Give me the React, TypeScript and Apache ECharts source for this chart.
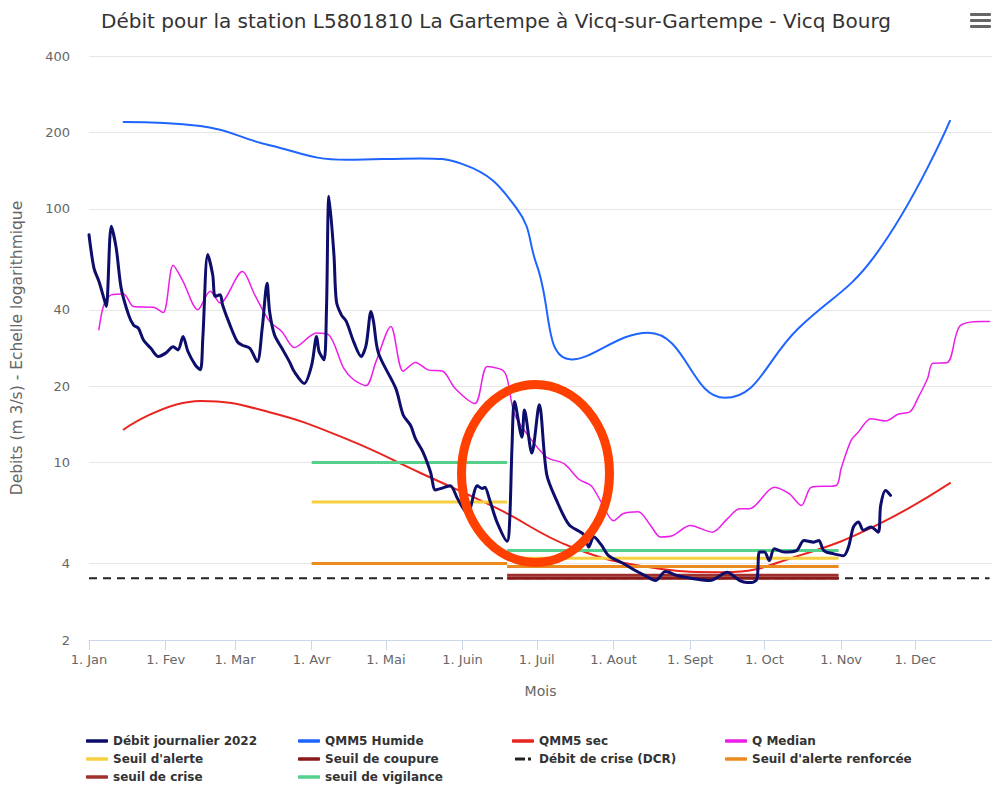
import React, { useEffect, useRef } from "react";
import * as echarts from "echarts";

const TITLE = "Débit pour la station L5801810 La Gartempe à Vicq-sur-Gartempe - Vicq Bourg";
const monthLabels = ["1. Jan", "1. Fev", "1. Mar", "1. Avr", "1. Mai", "1. Juin", "1. Juil", "1. Aout", "1. Sept", "1. Oct", "1. Nov", "1. Dec"];
const yTicks = [2, 4, 10, 20, 40, 100, 200, 400];

// Débit journalier 2022
const debitDates = [
  "01-01", "01-03", "01-05", "01-07", "01-08", "01-10", "01-12", "01-14", "01-17", "01-19", "01-21", "01-23", "01-26", "01-29",
  "02-01", "02-04", "02-06", "02-08", "02-10", "02-13", "02-15", "02-16", "02-18", "02-20", "02-21", "02-23", "02-24", "02-27",
  "03-02", "03-04", "03-07", "03-10", "03-12", "03-14", "03-15", "03-17", "03-20", "03-23", "03-25", "03-29",
  "04-01", "04-03", "04-04", "04-06", "04-07", "04-08", "04-10", "04-11", "04-13", "04-15", "04-18", "04-21", "04-23", "04-25", "04-26", "04-28",
  "05-05", "05-08", "05-11", "05-13", "05-16", "05-19", "05-21", "05-23", "05-27", "05-30",
  "06-03", "06-07", "06-09", "06-10", "06-12", "06-15", "06-19", "06-20", "06-21", "06-22", "06-25", "06-26", "06-29",
  "07-02", "07-05", "07-09", "07-14", "07-20", "07-22", "07-24", "07-27", "07-30",
  "08-04", "08-10", "08-14", "08-18", "08-22", "08-27",
  "09-03", "09-09", "09-16", "09-19", "09-21", "09-24", "09-26", "09-28", "09-29",
  "10-01", "10-03", "10-05", "10-09", "10-14", "10-17", "10-21", "10-23", "10-25", "10-29",
  "11-02", "11-04", "11-06", "11-08", "11-10", "11-13", "11-16", "11-17", "11-19", "11-21"
];
const debitValues = [
  79, 58.4, 51.8, 44.5, 41.2, 85.4, 70, 48.7, 38.2, 34.8, 33.8, 30.4, 28.2, 26.2,
  27, 28.6, 27.8, 31.4, 27.4, 24.2, 23.2, 30.9, 66, 55, 45.2, 45.8, 41.8, 34.8,
  29.9, 29, 28.2, 25, 33.8, 50.9, 39.4, 31.8, 28.2, 25, 22.8, 20.5,
  24.2, 31.4, 27.4, 25.4, 40.6, 112, 66, 43.2, 38.2, 36, 29.9, 26.2, 29, 39.4, 36, 27,
  19.6, 15.4, 14, 12.4, 11, 9.2, 7.8, 7.9, 8.1, 7.2,
  6.3, 8.1, 7.9, 8.0, 7.1, 5.8, 4.9, 5.8, 11.7, 17.4, 12.6, 16.1, 10.9,
  16.9, 9.0, 7.1, 5.7, 5.2, 4.65, 5.1, 4.75, 4.3,
  4.05, 3.75, 3.58, 3.43, 3.72, 3.58,
  3.48, 3.43, 3.7, 3.55, 3.43, 3.37, 3.37, 3.48, 4.44,
  4.44, 4.11, 4.58, 4.44, 4.5, 4.93, 4.86, 4.93, 4.5, 4.37,
  4.3, 4.65, 5.58, 5.84, 5.41, 5.58, 5.32, 6.78, 7.77, 7.43
];

// QMM5 Humide
const humideDates = ["01-15", "02-15", "03-15", "04-15", "05-15", "06-01", "06-23", "07-01", "07-15", "08-15", "09-15", "10-15", "11-15", "12-15"];
const qmm5Humide = [220, 212, 178, 156, 158, 150, 100, 60, 25.5, 32.5, 18, 34, 66, 222];

// QMM5 sec
const secDates = ["01-15", "02-15", "03-15", "04-15", "05-15", "06-15", "07-15", "08-15", "09-15", "10-15", "11-15", "12-15"];
const qmm5Sec = [13.5, 17.5, 15.8, 12.4, 9.1, 6.6, 4.65, 3.88, 3.7, 4.3, 5.65, 8.3];

// Q Median
const medianDates = [
  "01-05", "01-07", "01-10", "01-15", "01-19", "01-27", "01-31", "02-04", "02-08", "02-14", "02-19", "02-23",
  "03-04", "03-09", "03-15", "03-20", "03-25", "04-03", "04-08", "04-14", "04-18", "04-23", "04-27",
  "05-03", "05-08", "05-13", "05-18", "05-24", "05-29", "06-06", "06-11", "06-17", "06-19", "06-22", "06-28",
  "07-05", "07-12", "07-18", "07-23", "07-27", "08-01", "08-05", "08-11", "08-16", "08-20", "08-25",
  "09-01", "09-10", "09-16", "09-21", "09-25", "10-05", "10-11", "10-16", "10-20", "10-30",
  "11-01", "11-05", "11-08", "11-13", "11-19", "11-24", "11-29", "12-02", "12-06", "12-08", "12-14", "12-19", "12-28", "12-31"
];
const medianValues = [
  33.4, 41.8, 45.8, 46.2, 41.2, 40.9, 39, 59.9, 51.8, 40, 47.3, 42.5,
  56.6, 45.8, 36, 32.8, 28.4, 32.4, 31.8, 23.5, 21.2, 20.1, 25,
  34.4, 22.9, 24.8, 23.2, 22.9, 19.6, 17.1, 23.9, 23.2, 21.5, 15.5, 12.6,
  10.5, 9.9, 8.6, 8.1, 7.0, 5.9, 6.3, 6.4, 5.65, 5.09, 5.16,
  5.65, 5.32, 6.0, 6.58, 6.58, 8.0, 7.54, 6.78, 8.0, 8.13,
  9.47, 12.2, 13.2, 14.9, 14.6, 15.5, 15.9, 17.9, 21.5, 24.6, 24.8, 34.5, 36, 36
];

// Thresholds: two regulatory periods
const periodStarts = ["04-01", "06-19"];
const periodEnds = ["06-19", "10-31"];
const seuilVigilance = [10, 4.5];
const seuilAlerte = [7, 4.2];
const seuilRenforcee = [4, 3.9];
const seuilCrise = [null, 3.6];
const seuilCoupure = [null, 3.5];
const dcrDates = ["01-01", "12-31"];
const dcrValue = 3.5;

const t = (s: string) => {
  const [m, d] = s.split("-").map(Number);
  return new Date(2022, m - 1, d).getTime();
};
const L = (v: number) => Math.log10(v);

const pairs = (dates: string[], vals: number[]) => dates.map((d, i) => [t(d), L(vals[i])]);
const steps = (vals: (number | null)[]) => {
  const out: any[] = [];
  vals.forEach((v, i) => {
    if (v == null) return;
    out.push([t(periodStarts[i]), L(v)]);
    out.push([t(periodEnds[i]), L(v)]);
    out.push([t(periodEnds[i]), "-"]);
  });
  return out;
};

const FONT = "'DejaVu Sans', sans-serif";
const monthStarts = monthLabels.map((_, i) => new Date(2022, i, 1).getTime());

// legend icons (tiny corner specks keep the bar centred in a 22x14 box)
const BAR_ICON = "path://M0,0H0.05V0.05H0Z M1,5.2C0.4,5.2 0,5.6 0,6.2V7.8C0,8.4 0.4,8.8 1,8.8H21C21.6,8.8 22,8.4 22,7.8V6.2C22,5.6 21.6,5.2 21,5.2Z M21.95,13.95H22V14H21.95Z";
const DASH_ICON = "path://M0,0H0.05V0.05H0Z M3,5.6H13V8.4H3Z M16,5.6H19V8.4H16Z M21.95,13.95H22V14H21.95Z";

export default function App() {
  const ref = useRef<HTMLDivElement>(null);
  useEffect(() => {
    if (!ref.current) return;
    const chart = echarts.init(ref.current, null, { renderer: "svg" });
    const lineSeries = (name: string, data: any[], color: string, width: number, extra: any = {}) => {
      const { lineStyle: ls, ...rest } = extra;
      return {
        name,
        type: "line",
        data,
        symbol: "none",
        showSymbol: false,
        lineStyle: { color, width, cap: "round", join: "round", ...(ls || {}) },
        itemStyle: { color },
        connectNulls: false,
        ...rest,
      };
    };
    const thr = (name: string, vals: (number | null)[], color: string) =>
      lineSeries(name, steps(vals), color, 3, { z: 3, lineStyle: { cap: "butt" } });

    const legendBase = {
      orient: "vertical",
      top: 734,
      padding: 0,
      itemGap: 4,
      itemWidth: 22,
      itemHeight: 14,
      selectedMode: false,
      textStyle: { fontFamily: FONT, fontWeight: "bold", fontSize: 12, color: "#333" },
    };
    const item = (name: string, dashed = false) => ({ name, icon: dashed ? DASH_ICON : BAR_ICON });

    chart.setOption({
      animation: false,
      backgroundColor: "#fff",
      title: {
        text: TITLE,
        left: "center",
        top: 6,
        textStyle: { fontFamily: FONT, fontSize: 20, fontWeight: "normal", color: "#333" },
      },
      grid: { left: 89, top: 56, height: 584, width: 911 },
      xAxis: {
        type: "value",
        min: t("01-01"),
        max: new Date(2023, 0, 1).getTime(),
        name: "Mois",
        nameLocation: "middle",
        nameGap: 44,
        nameTextStyle: { fontFamily: FONT, fontSize: 14, color: "#666" },
        axisLine: { lineStyle: { color: "#ccd6eb", width: 1 } },
        axisTick: { show: true, length: 10, lineStyle: { color: "#ccd6eb" }, customValues: monthStarts },
        axisLabel: {
          customValues: monthStarts,
          formatter: (v: number) => monthLabels[new Date(v).getMonth()],
          fontFamily: FONT,
          fontSize: 13,
          color: "#666",
          margin: 13,
        },
        splitLine: { show: false },
      },
      yAxis: {
        type: "value",
        min: L(2),
        max: L(400),
        name: "Debits (m 3/s) - Echelle logarithmique",
        nameLocation: "middle",
        nameRotate: 90,
        nameGap: 64,
        nameTextStyle: { fontFamily: FONT, fontSize: 15.5, color: "#666" },
        axisLine: { show: false },
        axisTick: { show: false, customValues: yTicks.map(L) },
        axisLabel: {
          customValues: yTicks.map(L),
          formatter: (v: number) => String(Math.round(Math.pow(10, v))),
          fontFamily: FONT,
          fontSize: 13,
          color: "#666",
          margin: 19,
        },
        splitLine: { show: true, lineStyle: { color: "#e6e6e6", width: 1 } },
      },
      legend: [
        { ...legendBase, left: 86, data: [item("Débit journalier 2022"), item("Seuil d'alerte"), item("seuil de crise")] },
        { ...legendBase, left: 298, data: [item("QMM5 Humide"), item("Seuil de coupure"), item("seuil de vigilance")] },
        { ...legendBase, left: 512, data: [item("QMM5 sec"), item("Débit de crise (DCR)", true)] },
        { ...legendBase, left: 725, data: [item("Q Median"), item("Seuil d'alerte renforcée")] },
      ],
      series: [
        lineSeries("QMM5 Humide", pairs(humideDates, qmm5Humide), "#1e64ff", 2, { smooth: 0.45, z: 2 }),
        lineSeries("QMM5 sec", pairs(secDates, qmm5Sec), "#e8251f", 2, { smooth: 0.45, z: 2 }),
        lineSeries("Q Median", pairs(medianDates, medianValues), "#ec1ee8", 1.5, { smooth: 0.3, z: 2 }),
        lineSeries("Débit de crise (DCR)", dcrDates.map((d) => [t(d), L(dcrValue)]), "#222", 2, { z: 2, lineStyle: { type: [8, 6], cap: "butt" } }),
        thr("Seuil d'alerte", seuilAlerte, "#f7d040"),
        thr("Seuil d'alerte renforcée", seuilRenforcee, "#ea8a1f"),
        thr("seuil de vigilance", seuilVigilance, "#55d18c"),
        thr("seuil de crise", seuilCrise, "#a0302e"),
        thr("Seuil de coupure", seuilCoupure, "#8b1a1a"),
        lineSeries("Débit journalier 2022", pairs(debitDates, debitValues), "#0d0d6b", 3, { smooth: 0.3, z: 4 }),
      ],
      graphic: [
        {
          type: "ellipse",
          shape: { cx: 535.5, cy: 473.5, rx: 74, ry: 89 },
          style: { fill: "none", stroke: "#ff4000", lineWidth: 9 },
          z: 100,
        },
        { type: "rect", shape: { x: 970, y: 13, width: 21, height: 3, r: 1 }, style: { fill: "#666" }, z: 100 },
        { type: "rect", shape: { x: 970, y: 19, width: 21, height: 3, r: 1 }, style: { fill: "#666" }, z: 100 },
        { type: "rect", shape: { x: 970, y: 25, width: 21, height: 3, r: 1 }, style: { fill: "#666" }, z: 100 },
      ],
    });
    return () => chart.dispose();
  }, []);
  return <div ref={ref} style={{ position: "fixed", left: 0, top: 0, width: 992, height: 786 }} />;
}
